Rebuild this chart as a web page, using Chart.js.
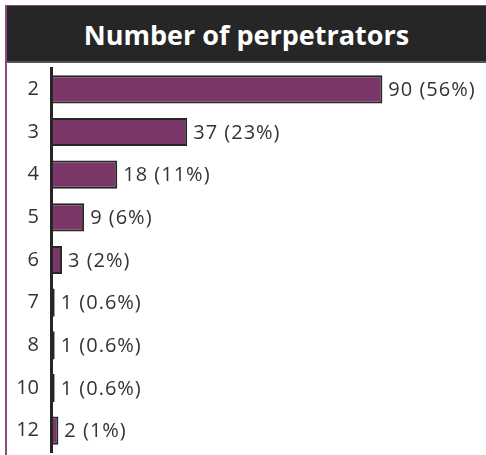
<!DOCTYPE html>
<html>
<head>
<meta charset="utf-8">
<script src="https://cdn.jsdelivr.net/npm/chart.js@4"></script>
<style>
    body { margin: 0; background: #fff; }
    .frame {
        position: absolute; left: 5px; top: 5px; width: 481px; height: 450px;
        border-left: 2px solid #8a4a7c; border-top: 1px solid #8a4a7c;
        box-sizing: border-box;
    }
    .header {
        height: 55px; background: #262626; border-bottom: 2px solid #555;
        color: #fff; font-family: "Open Sans", sans-serif; font-weight: bold;
        font-size: 27px; text-align: center; line-height: 57px;
    }
    .chart-container { position: absolute; left: 0; top: 57px; width: 479px; height: 392px; }
</style>
</head>
<body>
<div class="frame">
    <div class="header">Number of perpetrators</div>
    <div class="chart-container"><canvas id="perpChart"></canvas></div>
</div>
<script>
// Chart data
const categories = ['2', '3', '4', '5', '6', '7', '8', '10', '12'];
const counts = [90, 37, 18, 9, 3, 1, 1, 1, 2];
const percents = ['56%', '23%', '11%', '6%', '2%', '0.6%', '0.6%', '0.6%', '1%'];

// Draws "count (percent)" at the end of every bar
const valueLabels = {
    id: 'valueLabels',
    afterDatasetsDraw(chart) {
        const ctx = chart.ctx;
        const meta = chart.getDatasetMeta(0);
        ctx.save();
        ctx.font = '20px "Open Sans", sans-serif';
        ctx.letterSpacing = '1px';
        ctx.fillStyle = '#333';
        ctx.textBaseline = 'middle';
        ctx.textAlign = 'left';
        meta.data.forEach((bar, i) => {
            ctx.fillText(`${counts[i]} (${percents[i]})`, bar.x + 6, bar.y + 1);
        });
        ctx.restore();
    }
};

const ctx = document.getElementById('perpChart').getContext('2d');

new Chart(ctx, {
    type: 'bar',
    data: {
        labels: categories,
        datasets: [{
            data: counts,
            backgroundColor: '#7b3768',
            borderColor: '#262626',
            borderWidth: 2,
            borderSkipped: false,
            categoryPercentage: 1,
            barPercentage: 0.66
        }]
    },
    options: {
        indexAxis: 'y',
        responsive: true,
        maintainAspectRatio: false,
        animation: false,
        layout: { padding: { top: 5, bottom: 3, right: 30 } },
        scales: {
            x: { display: false, min: 0, max: 110 },
            y: {
                grid: { display: false },
                border: { display: true, color: '#262626', width: 3 },
                ticks: {
                    color: '#333',
                    padding: 4,
                    font: { family: '"Open Sans", sans-serif', size: 20 }
                },
                afterFit(scale) {
                    scale.width = 44;
                    // drop the extra room Chart.js keeps for the first/last label
                    scale.paddingTop = 0;
                    scale.paddingBottom = 0;
                }
            }
        },
        plugins: {
            legend: { display: false },
            tooltip: { enabled: false }
        }
    },
    plugins: [valueLabels]
});
</script>
</body>
</html>
